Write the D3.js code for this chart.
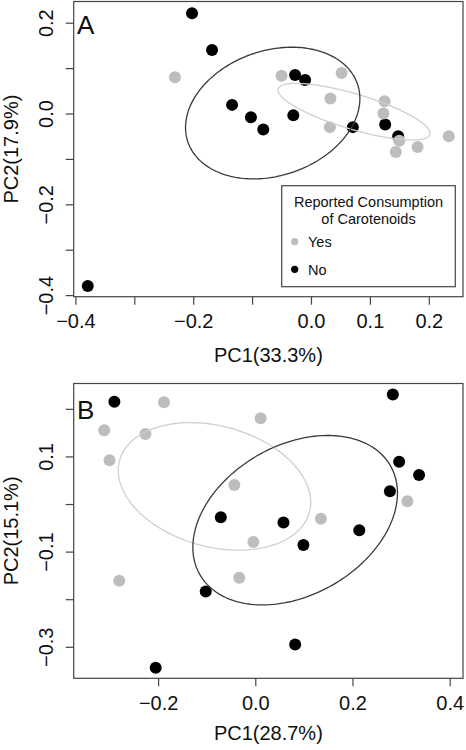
<!DOCTYPE html>
<html><head><meta charset="utf-8">
<script src="https://cdn.jsdelivr.net/npm/d3@7"></script>
<style>
body{margin:0;background:#fff}
svg{display:block}
text{font-family:"Liberation Sans",Arial,Helvetica,sans-serif;fill:#111}
</style>
</head><body>
<svg id="chart" width="466" height="750"></svg>
<script>
// ---------- Panel A data ----------
const aYesX = [-0.231, -0.050, 0.052, 0.033, 0.125, 0.123, 0.032, 0.150, 0.144, 0.181, 0.234];
const aYesY = [0.080, 0.083, 0.089, 0.033, 0.027, 0.000, -0.030, -0.060, -0.085, -0.074, -0.050];
const aNoX  = [-0.202, -0.168, -0.027, -0.010, -0.134, -0.102, -0.081, -0.030, 0.071, 0.126, 0.148, -0.379];
const aNoY  = [0.221, 0.140, 0.085, 0.074, 0.019, -0.008, -0.035, -0.004, -0.030, -0.024, -0.050, -0.380];
// ellipse: [centerX, centerY, radiusX, radiusY, correlation]
const aEllipseNo  = [-0.065, 0.001, 0.148, 0.145, 0.22];
const aEllipseYes = [0.073, 0.004, 0.129, 0.0623, -0.76];
const aXTicks = [-0.4, -0.3, -0.2, -0.1, 0.0, 0.1, 0.2];
const aXLabels = [-0.4, -0.2, 0.0, 0.1, 0.2];
const aYTicks = [-0.4, -0.3, -0.2, -0.1, 0.0, 0.1, 0.2];
const aYLabels = [-0.4, -0.2, 0.0, 0.2];
const aXTitle = "PC1(33.3%)";
const aYTitle = "PC2(17.9%)";

// ---------- Panel B data ----------
const bYesX = [-0.188, 0.011, -0.311, -0.226, -0.300, -0.043, 0.313, 0.135, -0.004, -0.033, -0.280];
const bYesY = [0.214, 0.180, 0.155, 0.147, 0.092, 0.040, 0.006, -0.031, -0.080, -0.155, -0.161];
const bNoX  = [-0.290, 0.283, 0.296, 0.337, 0.277, -0.071, 0.058, 0.214, 0.099, -0.102, 0.082, -0.205];
const bNoY  = [0.215, 0.230, 0.089, 0.061, 0.027, -0.028, -0.039, -0.055, -0.086, -0.184, -0.295, -0.344];
const bEllipseNo  = [0.082, -0.034, 0.2105, 0.178, 0.32];
const bEllipseYes = [-0.084, 0.037, 0.198, 0.134, -0.25];
const bXTicks = [-0.2, 0.0, 0.2, 0.4];
const bXLabels = [-0.2, 0.0, 0.2, 0.4];
const bYTicks = [-0.3, -0.2, -0.1, 0.0, 0.1, 0.2];
const bYLabels = [-0.3, -0.1, 0.1];
const bXTitle = "PC1(28.7%)";
const bYTitle = "PC2(15.1%)";

const legendTitle = ["Reported Consumption", "of Carotenoids"];
const legendItems = ["Yes", "No"];

const colYes = "#bdbdbd", colNo = "#000000";
const colEllYes = "#cfcfcf", colEllNo = "#3a3a3a";

const svg = d3.select("#chart");

const panels = [
  {letter: "A", xDom: [-0.4029, 0.2581], yDom: [-0.4035, 0.2467], top: 1.5, bottom: 296.7,
   yesX: aYesX, yesY: aYesY, noX: aNoX, noY: aNoY, ellNo: aEllipseNo, ellYes: aEllipseYes,
   xTicks: aXTicks, xLabels: aXLabels, yTicks: aYTicks, yLabels: aYLabels,
   xTitle: aXTitle, yTitle: aYTitle, letterOff: 32, titleOff: 65.5, legend: true},
  {letter: "B", xDom: [-0.3737, 0.4274], yDom: [-0.3662, 0.2532], top: 383.5, bottom: 678.3,
   yesX: bYesX, yesY: bYesY, noX: bNoX, noY: bNoY, ellNo: bEllipseNo, ellYes: bEllipseYes,
   xTicks: bXTicks, xLabels: bXLabels, yTicks: bYTicks, yLabels: bYLabels,
   xTitle: bXTitle, yTitle: bYTitle, letterOff: 35.5, titleOff: 62, legend: false}
];

const left = 73.7, right = 463;
const fmt = d3.format(".1f");
const has = (arr, v) => arr.some(a => Math.abs(a - v) < 1e-9);

function ellipsePts(e) {
  const [cx, cy, rx, ry, rho] = e;
  const delta = Math.acos(rho);
  return d3.range(0, 201).map(i => {
    const t = i / 200 * 2 * Math.PI;
    return [cx + rx * Math.cos(t), cy + ry * Math.cos(t - delta)];
  });
}

panels.forEach(p => {
  const x = d3.scaleLinear().domain(p.xDom).range([left, right]);
  const y = d3.scaleLinear().domain(p.yDom).range([p.bottom, p.top]);
  const g = svg.append("g");

  // points: black first, gray on top
  g.append("g").selectAll("circle").data(d3.zip(p.noX, p.noY)).join("circle")
    .attr("cx", d => x(d[0])).attr("cy", d => y(d[1])).attr("r", 6).attr("fill", colNo);
  g.append("g").selectAll("circle").data(d3.zip(p.yesX, p.yesY)).join("circle")
    .attr("cx", d => x(d[0])).attr("cy", d => y(d[1])).attr("r", 6).attr("fill", colYes);

  const line = d3.line().x(d => x(d[0])).y(d => y(d[1])).curve(d3.curveLinearClosed);
  g.append("path").attr("d", line(ellipsePts(p.ellYes))).attr("fill", "none")
    .attr("stroke", colEllYes).attr("stroke-width", 1.3);
  g.append("path").attr("d", line(ellipsePts(p.ellNo))).attr("fill", "none")
    .attr("stroke", colEllNo).attr("stroke-width", 1.3);

  // box
  g.append("rect").attr("x", left).attr("y", p.top).attr("width", right - left)
    .attr("height", p.bottom - p.top).attr("fill", "none").attr("stroke", "#444").attr("stroke-width", 1.2);

  // x axis
  const xa = g.append("g").attr("transform", `translate(0,${p.bottom})`)
    .call(d3.axisBottom(x).tickValues(p.xTicks).tickSize(8).tickSizeOuter(0)
      .tickFormat(v => has(p.xLabels, v) ? fmt(v) : ""));
  xa.select(".domain").remove();
  xa.selectAll("line").attr("stroke", "#444").attr("stroke-width", 1.2);
  xa.selectAll("text").attr("y", 31.5).attr("dy", 0).attr("font-size", 20)
    .attr("fill", "#111").style("font-family", '"Liberation Sans",Arial,sans-serif');

  // y axis
  const ya = g.append("g").attr("transform", `translate(${left},0)`)
    .call(d3.axisLeft(y).tickValues(p.yTicks).tickSize(8).tickSizeOuter(0)
      .tickFormat(v => has(p.yLabels, v) ? fmt(v) : ""));
  ya.select(".domain").remove();
  ya.selectAll("line").attr("stroke", "#444").attr("stroke-width", 1.2);
  ya.selectAll("text").attr("x", 0).attr("y", -21).attr("dy", 0)
    .attr("transform", "rotate(-90)").attr("text-anchor", "middle").attr("font-size", 20)
    .attr("fill", "#111").style("font-family", '"Liberation Sans",Arial,sans-serif');

  // titles
  g.append("text").attr("x", (left + right) / 2).attr("y", p.bottom + p.titleOff)
    .attr("text-anchor", "middle").attr("font-size", 20).text(p.xTitle);
  g.append("text").attr("transform", `translate(18.3,${(p.top + p.bottom) / 2}) rotate(-90)`)
    .attr("text-anchor", "middle").attr("font-size", 20).text(p.yTitle);

  // panel letter
  g.append("text").attr("x", 77).attr("y", p.top + p.letterOff).attr("font-size", 26).text(p.letter);

  if (p.legend) {
    const lg = g.append("g");
    lg.append("rect").attr("x", 281.7).attr("y", 185.7).attr("width", 173.6).attr("height", 101)
      .attr("fill", "#fff").attr("stroke", "#444").attr("stroke-width", 1.2);
    lg.selectAll("text.lt").data(legendTitle).join("text").attr("class", "lt")
      .attr("x", 368.5).attr("y", (d, i) => 206.7 + i * 17).attr("text-anchor", "middle")
      .attr("font-size", 14.5).text(d => d);
    const cols = [colYes, colNo];
    lg.selectAll("circle").data(legendItems).join("circle")
      .attr("cx", 294.7).attr("cy", (d, i) => 241.7 + i * 27.6).attr("r", 3.6)
      .attr("fill", (d, i) => cols[i]);
    lg.selectAll("text.li").data(legendItems).join("text").attr("class", "li")
      .attr("x", 308).attr("y", (d, i) => 246.9 + i * 27.6).attr("font-size", 14.5).text(d => d);
  }
});
</script>
</body></html>
